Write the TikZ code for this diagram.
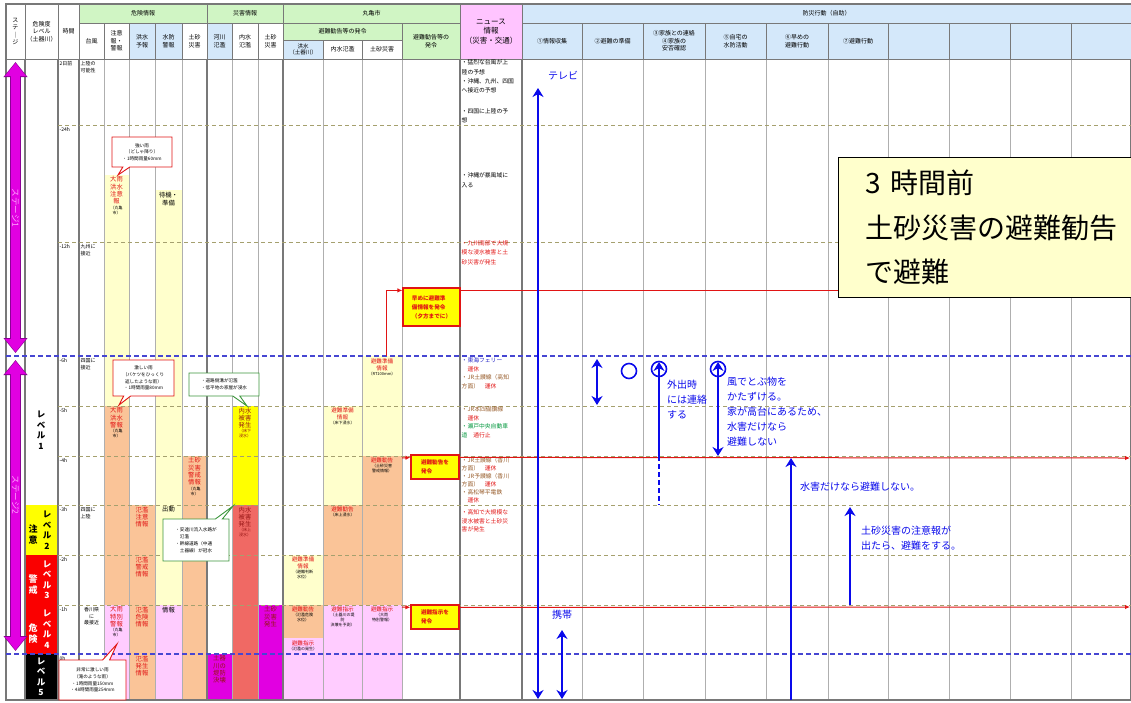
\documentclass[tikz,border=0pt]{standalone}
\usepackage{fontspec}
\setmainfont{Noto Sans CJK JP}
\usepackage{tikz}
\usetikzlibrary{
  positioning,
  arrows.meta,
  shapes.geometric,
  shapes.callouts,
  calc
}
\definecolor{hdrgreen}{RGB}{208,245,196}
\definecolor{hdrblue}{RGB}{212,232,250}
\definecolor{hdrpink}{RGB}{255,196,255}
\definecolor{gridgray}{RGB}{120,120,120}
\definecolor{gridlight}{RGB}{175,175,175}
\definecolor{hourolive}{RGB}{165,160,110}
\definecolor{sixblue}{RGB}{70,70,210}
\definecolor{barlight}{RGB}{255,255,204}
\definecolor{barpeach}{RGB}{250,196,152}
\definecolor{barpink}{RGB}{255,204,255}
\definecolor{barmag}{RGB}{225,0,225}
\definecolor{baryel}{RGB}{255,255,0}
\definecolor{barsalmon}{RGB}{240,105,100}
\definecolor{lvlred}{RGB}{250,0,0}
\definecolor{warnred}{RGB}{225,20,20}
\definecolor{darkred}{RGB}{150,20,20}
\definecolor{callgreen}{RGB}{60,150,60}
\definecolor{newsbrown}{RGB}{150,90,40}
\definecolor{newsgreen}{RGB}{0,150,60}
\definecolor{newsblue}{RGB}{40,40,200}
\definecolor{actblue}{RGB}{10,10,235}
\definecolor{stagemag}{RGB}{225,0,225}
\definecolor{stageedge}{RGB}{140,0,150}
\definecolor{stagetxt}{RGB}{255,165,255}
\definecolor{noteyel}{RGB}{255,255,204}
\tikzset{
  hcell/.style={
    draw=gridgray, line width=0.8pt, inner sep=0pt,
    align=center, font=\fontsize{6}{7.5}\selectfont
  },
  timelabel/.style={
    anchor=north west, inner sep=0.5pt, align=left,
    font=\fontsize{5}{6.5}\selectfont
  },
  bartext/.style={
    anchor=north, inner sep=0.5pt, align=center, text=warnred,
    font=\fontsize{6.3}{7.3}\selectfont
  },
  subtext/.style={
    inner sep=0pt, align=center,
    font=\fontsize{4}{5}\selectfont
  },
  newstext/.style={
    anchor=north west, inner sep=0.5pt, align=left,
    font=\fontsize{5.8}{9.4}\selectfont
  },
  redcall/.style={
    rectangle callout, draw=warnred, fill=white, line width=0.9pt,
    callout pointer width=7pt, inner sep=1pt, align=center,
    font=\fontsize{4.6}{6.6}\selectfont
  },
  greencall/.style={
    rectangle callout, draw=callgreen, fill=white, line width=0.9pt,
    callout pointer width=7pt, inner sep=1.5pt, align=left,
    font=\fontsize{4.6}{7}\selectfont
  },
  orderbox/.style={
    draw=warnred, fill=baryel, line width=1.2pt, inner sep=2pt,
    align=left, text=warnred, font=\fontsize{5.6}{9}\selectfont\bfseries
  },
  levelnode/.style={
    inner sep=0pt, align=center,
    font=\fontsize{8.5}{10.5}\selectfont\bfseries
  },
  minorline/.style={draw=gridlight, line width=0.8pt},
  majorline/.style={draw=gridgray, line width=1.1pt},
  hourline/.style={draw=hourolive, line width=0.9pt, dash pattern=on 4pt off 3pt},
  sixline/.style={draw=sixblue, line width=1.2pt, dash pattern=on 5pt off 3pt},
  redline/.style={draw=warnred, line width=1pt, -{Latex[length=5pt,width=4.5pt]}},
  redplain/.style={draw=warnred, line width=1pt},
  stageback/.style={
    draw=stageedge, line width=11pt,
    {Triangle[length=15pt,width=23pt]}-{Triangle[length=15pt,width=23pt]}
  },
  stagearrow/.style={
    draw=stagemag, line width=9pt,
    {Triangle[length=13pt,width=20pt]}-{Triangle[length=13pt,width=20pt]}
  },
  stagetext/.style={
    rotate=-90, inner sep=0pt, text=stagetxt,
    font=\fontsize{8.5}{10}\selectfont
  },
  actarrow/.style={draw=actblue, line width=2.4pt, -{Stealth[length=9pt,width=11pt]}},
  actboth/.style={draw=actblue, line width=2.4pt, {Stealth[length=9pt,width=11pt]}-{Stealth[length=9pt,width=11pt]}},
  actdash/.style={draw=actblue, line width=2.4pt, dash pattern=on 5pt off 3pt},
  actring/.style={draw=actblue, circle, line width=1.6pt, minimum size=15pt, inner sep=0pt},
  acttext/.style={
    anchor=north west, inner sep=0pt, align=left, text=actblue,
    font=\fontsize{10}{15}\selectfont
  },
  bignote/.style={
    draw=black, fill=noteyel, line width=1.4pt, anchor=north west,
    minimum width=300pt, minimum height=140pt, inner sep=0pt,
    text width=280pt, align=left,
    font=\fontsize{28}{44.5}\selectfont
  }
}

\begin{document}
\begin{tikzpicture}[x=1pt, y=-1pt]
  \useasboundingbox (0,0) rectangle (1131,702);

    % Colour bars
    \fill[barlight] (104,175) rectangle (129,406);
    \fill[barpeach] (104,406) rectangle (129,605);
    \fill[barpink] (104,605) rectangle (129,700);
    \fill[barpeach] (129,505) rectangle (155,700);
    \fill[barlight] (155,190) rectangle (182,605);
    \fill[barpink] (155,605) rectangle (182,700);
    \fill[barpeach] (182,456) rectangle (207,700);
    \fill[barmag] (207,654) rectangle (232,700);
    \fill[baryel] (232,406) rectangle (258,505);
    \fill[barsalmon] (232,505) rectangle (258,700);
    \fill[barmag] (258,605) rectangle (283,700);
    \fill[barlight] (283,555) rectangle (323,605);
    \fill[barpeach] (283,605) rectangle (323,638);
    \fill[barpink] (283,638) rectangle (323,700);
    \fill[barlight] (323,406) rectangle (362,505);
    \fill[barpeach] (323,505) rectangle (362,605);
    \fill[barpink] (323,605) rectangle (362,700);
    \fill[barlight] (362,356) rectangle (402,456);
    \fill[barpeach] (362,456) rectangle (402,605);
    \fill[barpink] (362,605) rectangle (402,700);

    % Level column
    \fill[baryel] (25,505) rectangle (58,555);
    \fill[lvlred] (25,555) rectangle (58,654);
    \fill[black] (25,654) rectangle (58,700);

    % Grid
    \draw[minorline] (104,59) -- (104,700) (129,59) -- (129,700) (155,59) -- (155,700)
      (182,59) -- (182,700) (232,59) -- (232,700) (258,59) -- (258,700)
      (323,59) -- (323,700) (362,59) -- (362,700) (402,59) -- (402,700)
      (582,59) -- (582,700) (643,59) -- (643,700) (705,59) -- (705,700)
      (766,59) -- (766,700) (828,59) -- (828,700) (888,59) -- (888,700)
      (949,59) -- (949,700) (1010,59) -- (1010,700) (1071,59) -- (1071,700);
    \draw[majorline] (25,59) -- (25,700) (58,59) -- (58,700) (79,59) -- (79,700)
      (207,59) -- (207,700) (283,59) -- (283,700) (460,59) -- (460,700)
      (522,59) -- (522,700);
    \draw[majorline] (6,4) rectangle (1131,700);

    % Hour lines
    \draw[hourline] (58,125) -- (1131,125) (58,242) -- (1131,242)
      (58,406) -- (1131,406) (58,456) -- (1131,456) (58,505) -- (1131,505)
      (58,555) -- (1131,555) (58,605) -- (1131,605);
    \draw[sixline] (6,356) -- (1131,356) (6,654) -- (1131,654);

    % Header
    \node[hcell, minimum width=19, minimum height=55] (hstage) at (15.5,31.5) {ス\\テ\\｜\\ジ};
    \node[hcell, minimum width=33, minimum height=55] (hlevel) at (41.5,31.5) {危険度\\レベル\\（土器川）};
    \node[hcell, minimum width=21, minimum height=55] (htime) at (68.5,31.5) {時間};
    \node[hcell, fill=hdrgreen, minimum width=128, minimum height=19] (hkiken) at (143,13.5) {危険情報};
    \node[hcell, minimum width=25, minimum height=36] (htaifu) at (91.5,41) {台風};
    \node[hcell, minimum width=25, minimum height=36] (hchui) at (116.5,41) {注意\\報・\\警報};
    \node[hcell, fill=hdrblue, minimum width=26, minimum height=36] (hkozui) at (142,41) {洪水\\予報};
    \node[hcell, fill=hdrblue, minimum width=27, minimum height=36] (hsuibo) at (168.5,41) {水防\\警報};
    \node[hcell, minimum width=25, minimum height=36] (hdosha) at (194.5,41) {土砂\\災害};
    \node[hcell, fill=hdrgreen, minimum width=76, minimum height=19] (hsaigai) at (245,13.5) {災害情報};
    \node[hcell, fill=hdrblue, minimum width=25, minimum height=36] (hkasen) at (219.5,41) {河川\\氾濫};
    \node[hcell, minimum width=26, minimum height=36] (hnaisui) at (245,41) {内水\\氾濫};
    \node[hcell, minimum width=25, minimum height=36] (hdosha2) at (270.5,41) {土砂\\災害};
    \node[hcell, fill=hdrgreen, minimum width=177, minimum height=19] (hcity) at (371.5,13.5) {丸亀市};
    \node[hcell, fill=hdrgreen, minimum width=119, minimum height=17] (hhinan) at (342.5,31.5) {避難勧告等の発令};
    \node[hcell, fill=hdrblue, minimum width=40, minimum height=19, font=\fontsize{5.5}{6.5}\selectfont] (hckozui) at (303,49.5) {洪水\\（土器川）};
    \node[hcell, minimum width=39, minimum height=19] (hcnaisui) at (342.5,49.5) {内水氾濫};
    \node[hcell, minimum width=40, minimum height=19] (hcdosha) at (382,49.5) {土砂災害};
    \node[hcell, fill=hdrgreen, minimum width=58, minimum height=36] (hhatsu) at (431,41) {避難勧告等の\\発令};
    \node[hcell, fill=hdrpink, minimum width=62, minimum height=55, font=\fontsize{7.5}{9.5}\selectfont] (hnews) at (491,31.5) {ニュース\\情報\\（災害・交通）};
    \node[hcell, fill=hdrblue, minimum width=609, minimum height=19] (hbosai) at (826.5,13.5) {防災行動（自助）};
    \node[hcell, fill=hdrblue, minimum width=60, minimum height=36] (hact1) at (552,41) {①情報収集};
    \node[hcell, fill=hdrblue, minimum width=61, minimum height=36] (hact2) at (612.5,41) {②避難の準備};
    \node[hcell, fill=hdrblue, minimum width=62, minimum height=36] (hact3) at (674,41) {③家族との連絡\\④家族の\\安否確認};
    \node[hcell, fill=hdrblue, minimum width=61, minimum height=36] (hact4) at (735.5,41) {⑤自宅の\\水防活動};
    \node[hcell, fill=hdrblue, minimum width=62, minimum height=36] (hact5) at (797,41) {⑥早めの\\避難行動};
    \node[hcell, fill=hdrblue, minimum width=60, minimum height=36] (hact6) at (858,41) {⑦避難行動};
    \node[hcell, fill=hdrblue, minimum width=61, minimum height=36] (hact7) at (918.5,41) {};
    \node[hcell, fill=hdrblue, minimum width=61, minimum height=36] (hact8) at (979.5,41) {};
    \node[hcell, fill=hdrblue, minimum width=61, minimum height=36] (hact9) at (1040.5,41) {};
    \node[hcell, fill=hdrblue, minimum width=60, minimum height=36] (hact10) at (1101,41) {};

    % Time column
    \node[timelabel] (t2d) at (59,61) {2日前};
    \node[timelabel] (t24) at (59,127) {-24h};
    \node[timelabel] (t12) at (59,244) {-12h};
    \node[timelabel] (t6) at (59,358) {-6h};
    \node[timelabel] (t5) at (59,408) {-5h};
    \node[timelabel] (t4) at (59,458) {-4h};
    \node[timelabel] (t3) at (59,507) {-3h};
    \node[timelabel] (t2) at (59,557) {-2h};
    \node[timelabel] (t1) at (59,607) {-1h};
    \node[timelabel] (t0) at (59,656) {0h};

    % Typhoon column
    \node[timelabel] (ty1) at (80,61) {上陸の\\可能性};
    \node[timelabel] (ty2) at (80,244) {九州に\\接近};
    \node[timelabel] (ty3) at (80,358) {四国に\\接近};
    \node[timelabel] (ty4) at (80,507) {四国に\\上陸};
    \node[timelabel, anchor=north, align=center] (ty5) at (91.5,607) {香川県\\に\\最接近};

    % Warning columns
    \node[bartext] (w1) at (116.5,176) {大雨\\洪水\\注意\\報};
    \node[subtext, below=0.5pt of w1] (w1s) {（丸亀\\市）};
    \node[bartext] (w2) at (116.5,407) {大雨\\洪水\\警報};
    \node[subtext, below=0.5pt of w2] (w2s) {（丸亀\\市）};
    \node[bartext] (w3) at (116.5,606) {大雨\\特別\\警報};
    \node[subtext, below=0.5pt of w3] (w3s) {（丸亀\\市）};
    \node[bartext] (f1) at (142,506) {氾濫\\注意\\情報};
    \node[bartext] (f2) at (142,556) {氾濫\\警戒\\情報};
    \node[bartext] (f3) at (142,606) {氾濫\\危険\\情報};
    \node[bartext] (f4) at (142,655) {氾濫\\発生\\情報};
    \node[bartext, text=black] (s1) at (168.5,192) {待機・\\準備};
    \node[bartext, text=black] (s2) at (168.5,506) {出動};
    \node[bartext, text=black] (s3) at (168.5,606) {情報};
    \node[bartext] (d1) at (194.5,457) {土砂\\災害\\警戒\\情報};
    \node[subtext, below=0.5pt of d1] (d1s) {（丸亀\\市）};
    \node[bartext, text=darkred] (k1) at (219.5,655) {土器\\川の\\堤防\\決壊};
    \node[bartext, text=darkred] (n1) at (245,407) {内水\\被害\\発生};
    \node[subtext, text=darkred, below=0.5pt of n1] (n1s) {（床下\\浸水）};
    \node[bartext, text=darkred] (n2) at (245,506) {内水\\被害\\発生};
    \node[subtext, text=darkred, below=0.5pt of n2] (n2s) {（床上\\浸水）};
    \node[bartext, text=darkred] (g1) at (270.5,606) {土砂\\災害\\発生};

    % City columns
    \node[bartext, font=\fontsize{5.6}{6.6}\selectfont] (c1) at (303,556) {避難準備\\情報};
    \node[subtext, below=0.5pt of c1] (c1s) {（避難判断\\水位）};
    \node[bartext, font=\fontsize{5.6}{6.6}\selectfont] (c2) at (303,606) {避難勧告};
    \node[subtext, below=0.5pt of c2] (c2s) {（氾濫危険\\水位）};
    \node[bartext, font=\fontsize{5.6}{6.6}\selectfont] (c3) at (303,640) {避難指示};
    \node[subtext, below=0.5pt of c3] (c3s) {（氾濫の発生）};
    \node[bartext, font=\fontsize{5.6}{6.6}\selectfont] (c4) at (342.5,407) {避難準備\\情報};
    \node[subtext, below=0.5pt of c4] (c4s) {（床下浸水）};
    \node[bartext, font=\fontsize{5.6}{6.6}\selectfont] (c5) at (342.5,506) {避難勧告};
    \node[subtext, below=0.5pt of c5] (c5s) {（床上浸水）};
    \node[bartext, font=\fontsize{5.6}{6.6}\selectfont] (c6) at (342.5,606) {避難指示};
    \node[subtext, below=0.5pt of c6] (c6s) {（土器川の堤\\防\\決壊を予測）};
    \node[bartext, font=\fontsize{5.6}{6.6}\selectfont] (c7) at (382,358) {避難準備\\情報};
    \node[subtext, below=0.5pt of c7] (c7s) {（RT100mm）};
    \node[bartext, font=\fontsize{5.6}{6.6}\selectfont] (c8) at (382,457) {避難勧告};
    \node[subtext, below=0.5pt of c8] (c8s) {（土砂災害\\警戒情報）};
    \node[bartext, font=\fontsize{5.6}{6.6}\selectfont] (c9) at (382,606) {避難指示};
    \node[subtext, below=0.5pt of c9] (c9s) {（大雨\\特別警報）};

    % Orders
    \node[orderbox, minimum width=57, minimum height=38] (hayame) at (431.5,307) {早めに避難準\\備情報を発令\\（夕方までに）};
    \node[orderbox, minimum width=48, minimum height=24] (kankoku) at (435,467) {避難勧告を\\発令};
    \node[orderbox, minimum width=48, minimum height=24] (shiji) at (435,617) {避難指示を\\発令};

    % News column
    \node[newstext] (nw1) at (461,59) {・猛烈な台風が上\\陸の予想\\・沖縄、九州、四国\\へ接近の予想};
    \node[newstext] (nw2) at (461,108) {・四国に上陸の予\\想};
    \node[newstext] (nw3) at (461,172) {・沖縄が暴風域に\\入る};
    \node[newstext, text=warnred] (nw4) at (461,240) {・九州南部で大規\\模な浸水被害と土\\砂災害が発生};
    \node[newstext, font=\fontsize{5.8}{8.6}\selectfont] (nw5) at (461,357) {\textcolor{newsblue}{・東海フェリー}\\\textcolor{warnred}{　運休}\\\textcolor{newsbrown}{・JR土讃線（高知}\\\textcolor{newsbrown}{方面）}\textcolor{warnred}{　運休}};
    \node[newstext, font=\fontsize{5.8}{8.6}\selectfont] (nw6) at (461,406) {\textcolor{newsbrown}{・JR本四備讃線}\\\textcolor{warnred}{　運休}\\\textcolor{newsgreen}{・瀬戸中央自動車}\\\textcolor{newsgreen}{道}\textcolor{warnred}{　通行止}};
    \node[newstext, font=\fontsize{5.8}{8}\selectfont] (nw7) at (461,457) {\textcolor{newsbrown}{・JR土讃線（香川}\\\textcolor{newsbrown}{方面）}\textcolor{warnred}{　運休}\\\textcolor{newsbrown}{・JR予讃線（香川}\\\textcolor{newsbrown}{方面）}\textcolor{warnred}{　運休}\\\textcolor{newsbrown}{・高松琴平電鉄}\\\textcolor{warnred}{　運休}};
    \node[newstext, font=\fontsize{5.8}{8.6}\selectfont, text=warnred] (nw8) at (461,509) {・高知で大規模な\\浸水被害と土砂災\\害が発生};

    % Callouts
    \coordinate (p1) at (118,175);
    \coordinate (p2) at (119,405);
    \coordinate (p3) at (247,406);
    \coordinate (p4) at (233,506);
    \coordinate (p5) at (117,644);
    \node[redcall, minimum width=60, minimum height=30, callout absolute pointer={(p1)}] (co1) at (142,152) {強い雨\\（どしゃ降り）\\・1時間雨量60mm};
    \node[redcall, minimum width=61, minimum height=36, callout absolute pointer={(p2)}] (co2) at (143.5,378) {激しい雨\\（バケツをひっくり\\返したような雨）\\・1時間雨量80mm};
    \node[greencall, minimum width=70, minimum height=23, callout absolute pointer={(p3)}] (co3) at (224,384.5) {・道路側溝が氾濫\\・低平地の家屋が浸水};
    \node[greencall, minimum width=66, minimum height=42, callout absolute pointer={(p4)}] (co4) at (196,540) {・安達川流入水路が\\　氾濫\\・幹線道路（中通\\　土器線）が冠水};
    \node[redcall, minimum width=67, minimum height=40, callout absolute pointer={(p5)}] (co5) at (92.5,680) {非常に激しい雨\\（滝のような雨）\\・1時間雨量150mm\\・48時間雨量254mm};

    % Level labels
    \node[levelnode] (lv1) at (41,430) {レ\\ベ\\ル\\1};
    \node[levelnode] (lv2) at (47,530) {レ\\ベ\\ル\\2};
    \node[levelnode, font=\fontsize{9}{11}\selectfont\bfseries] (lv2b) at (33,535) {注\\意};
    \node[levelnode, text=white] (lv3) at (47,580) {レ\\ベ\\ル\\3};
    \node[levelnode, text=white, font=\fontsize{9}{11}\selectfont\bfseries] (lv3b) at (33,585) {警\\戒};
    \node[levelnode, text=white] (lv4) at (47,629) {レ\\ベ\\ル\\4};
    \node[levelnode, text=white, font=\fontsize{9}{11}\selectfont\bfseries] (lv4b) at (33,634) {危\\険};
    \node[levelnode, text=white] (lv5) at (41,677) {レ\\ベ\\ル\\5};

    % Stage arrows
    \coordinate (st1a) at (15.5,62);
    \coordinate (st1b) at (15.5,353);
    \coordinate (st2a) at (15.5,360);
    \coordinate (st2b) at (15.5,651);
    \draw[stageback] (st1a) -- (st1b);
    \draw[stageback] (st2a) -- (st2b);
    \draw[stagearrow, shorten <=1pt, shorten >=1pt] (st1a) -- (st1b);
    \draw[stagearrow, shorten <=1pt, shorten >=1pt] (st2a) -- (st2b);
    \node[stagetext] (st1t) at (15.5,208) {ステージ1};
    \node[stagetext] (st2t) at (15.5,495) {ステージ2};

    % Big note
    \node[bignote] (bignote) at (838,157) {\hspace*{17pt}3 時間前\\\hspace*{17pt}土砂災害の避難勧告\\\hspace*{17pt}で避難};

    % Red connectors
    \coordinate (hays) at (386,356);
    \coordinate (hayw) at ([yshift=-3pt]hayame.north west);
    \coordinate (haye) at ([yshift=-3pt]hayame.north east);
    \draw[redline] (hays) |- (hayw);
    \draw[redplain] (haye) -- (haye -| bignote.west);
    \coordinate (kks) at (402,458);
    \coordinate (kkw) at ([yshift=-3pt]kankoku.north west);
    \coordinate (kke) at ([yshift=-3pt]kankoku.north east);
    \coordinate (kkend) at (1130,458);
    \draw[redline] (kks) -- (kkw);
    \draw[redline] (kke) -- (kkend);
    \coordinate (sjs) at (402,607);
    \coordinate (sjw) at ([yshift=-3pt]shiji.north west);
    \coordinate (sje) at ([yshift=-3pt]shiji.north east);
    \coordinate (sjend) at (1130,607);
    \draw[redline] (sjs) -- (sjw);
    \draw[redline] (sje) -- (sjend);

    % Actions
    \coordinate (tvtop) at (538,88);
    \coordinate (tvbot) at (538,699);
    \draw[actboth] (tvtop) -- (tvbot);
    \node[acttext] (tv) at (548,71) {テレビ};
    \coordinate (ktop) at (562,630);
    \coordinate (kbot) at (562,699);
    \draw[actboth] (ktop) -- (kbot);
    \node[acttext] (keitai) at (552,610) {携帯};
    \coordinate (juntop) at (597,359);
    \coordinate (junbot) at (597,405);
    \draw[actboth] (juntop) -- (junbot);
    \node[actring] (maru) at (629,371) {};
    \node[actring] (ring34) at (659,369) {};
    \coordinate (a34top) at (659,362);
    \coordinate (a34mid) at (659,456);
    \coordinate (a34bot) at (659,505);
    \draw[actarrow] (a34mid) -- (a34top);
    \draw[actdash] (a34mid) -- (a34bot);
    \node[acttext] (t34) at (667,380) {外出時\\には連絡\\する};
    \node[actring] (ring5) at (718,369) {};
    \coordinate (a5top) at (718,362);
    \coordinate (a5bot) at (718,456);
    \draw[actboth] (a5top) -- (a5bot);
    \node[acttext] (t5) at (727,377) {風でとぶ物を\\かたずける。\\家が高台にあるため、\\水害だけなら\\避難しない};
    \coordinate (a6bot) at (791,700);
    \coordinate (a6top) at (791,458);
    \draw[actarrow] (a6bot) -- (a6top);
    \node[acttext] (t6) at (800,482) {水害だけなら避難しない。};
    \coordinate (a7bot) at (850,605);
    \coordinate (a7top) at (850,507);
    \draw[actarrow] (a7bot) -- (a7top);
    \node[acttext] (t7) at (861,526) {土砂災害の注意報が\\出たら、避難をする。};

\end{tikzpicture}
\end{document}
